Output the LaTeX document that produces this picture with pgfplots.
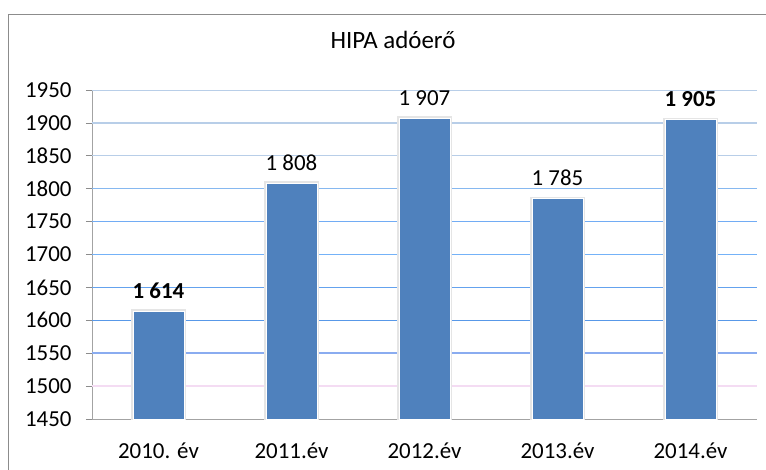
\documentclass[border=0pt]{standalone}
\usepackage{fontspec}
\setmainfont{Carlito}
\usepackage{pgfplots}
\pgfplotsset{compat=1.18}
\definecolor{barblue}{HTML}{4F81BD}
\definecolor{gA}{HTML}{B8CEE8}
\definecolor{gB}{HTML}{86B8F0}
\definecolor{gC}{HTML}{72ACF4}
\definecolor{gD}{HTML}{74B2F8}
\definecolor{gE}{HTML}{64A2EE}
\definecolor{gF}{HTML}{5898E8}
\definecolor{gG}{HTML}{8AACF0}
\definecolor{gH}{HTML}{F4DCF3}
\definecolor{framegray}{HTML}{8C8C8C}
\begin{document}
\begin{tikzpicture}
\begin{axis}[
  at={(92bp,-90bp)}, anchor=north west,
  scale only axis, width=665bp, height=329bp,
  xmin=-0.5, xmax=4.5, ymin=1450, ymax=1950,
  ytick={1450,1500,...,1950},
  xtick={0,1,2,3,4},
  xticklabels={2010. év,2011.év,2012.év,2013.év,2014.év},
  major x tick style={draw=none},
  extra x ticks={-0.5,0.5,1.5,2.5,3.5,4.5},
  extra x tick labels={},
  extra x tick style={major tick length=7bp, tick style={draw=framegray, line width=0.8bp}},
  axis x line*=bottom, axis y line*=left,
  every outer x axis line/.append style={-},
  every outer y axis line/.append style={-},
  axis line style={-, draw=framegray!80, line width=0.8bp},
  tick align=outside,
  major tick length=6bp,
  y tick style={draw=framegray, line width=0.8bp},
  ticklabel style={font=\fontsize{23}{26}\selectfont, text=black},
  yticklabel style={xshift=-11bp},
  xticklabel style={yshift=-14bp},
  /pgf/number format/assume math mode=true,
  /pgf/number format/1000 sep={},
  title={HIPA adóerő},
  title style={at={(axis description cs:0.4526,1.134)}, anchor=center, font=\fontsize{25}{29}\selectfont},
]
\draw[gA, line width=1.2bp] (axis cs:-0.5,1950) -- (axis cs:4.5,1950);
\draw[gA, line width=1.2bp] (axis cs:-0.5,1900) -- (axis cs:4.5,1900);
\draw[gA, line width=1.2bp] (axis cs:-0.5,1850) -- (axis cs:4.5,1850);
\draw[gB, line width=1.2bp] (axis cs:-0.5,1800) -- (axis cs:4.5,1800);
\draw[gC, line width=1.7bp] (axis cs:-0.5,1750) -- (axis cs:4.5,1750);
\draw[gD, line width=0.8bp] (axis cs:-0.5,1700) -- (axis cs:4.5,1700);
\draw[gE, line width=1.3bp] (axis cs:-0.5,1650) -- (axis cs:4.5,1650);
\draw[gF, line width=1.3bp] (axis cs:-0.5,1600) -- (axis cs:4.5,1600);
\draw[gG, line width=1.9bp] (axis cs:-0.5,1550) -- (axis cs:4.5,1550);
\draw[gH, line width=1.3bp] (axis cs:-0.5,1500) -- (axis cs:4.5,1500);
\addplot[ybar, bar width=0.383, fill=barblue, draw=white, line width=0.8bp,
  preaction={draw=black!10, line width=4bp},
  point meta=explicit symbolic, nodes near coords,
  every node near coord/.append style={font=\fontsize{23}{26}\selectfont, text=black, yshift=9bp}]
  coordinates {
    (0,1614) [\textbf{1 614}]
    (1,1808) [1 808]
    (2,1907) [1 907]
    (3,1785) [1 785]
    (4,1905) [\textbf{1 905}]
  };
\end{axis}
\draw[framegray, line width=1.2bp] (8.5bp,-480bp) -- (8.5bp,-14.5bp) -- (780bp,-14.5bp);
\pgfresetboundingbox
\useasboundingbox (0,0) rectangle (766bp,-470bp);
\end{tikzpicture}
\end{document}
